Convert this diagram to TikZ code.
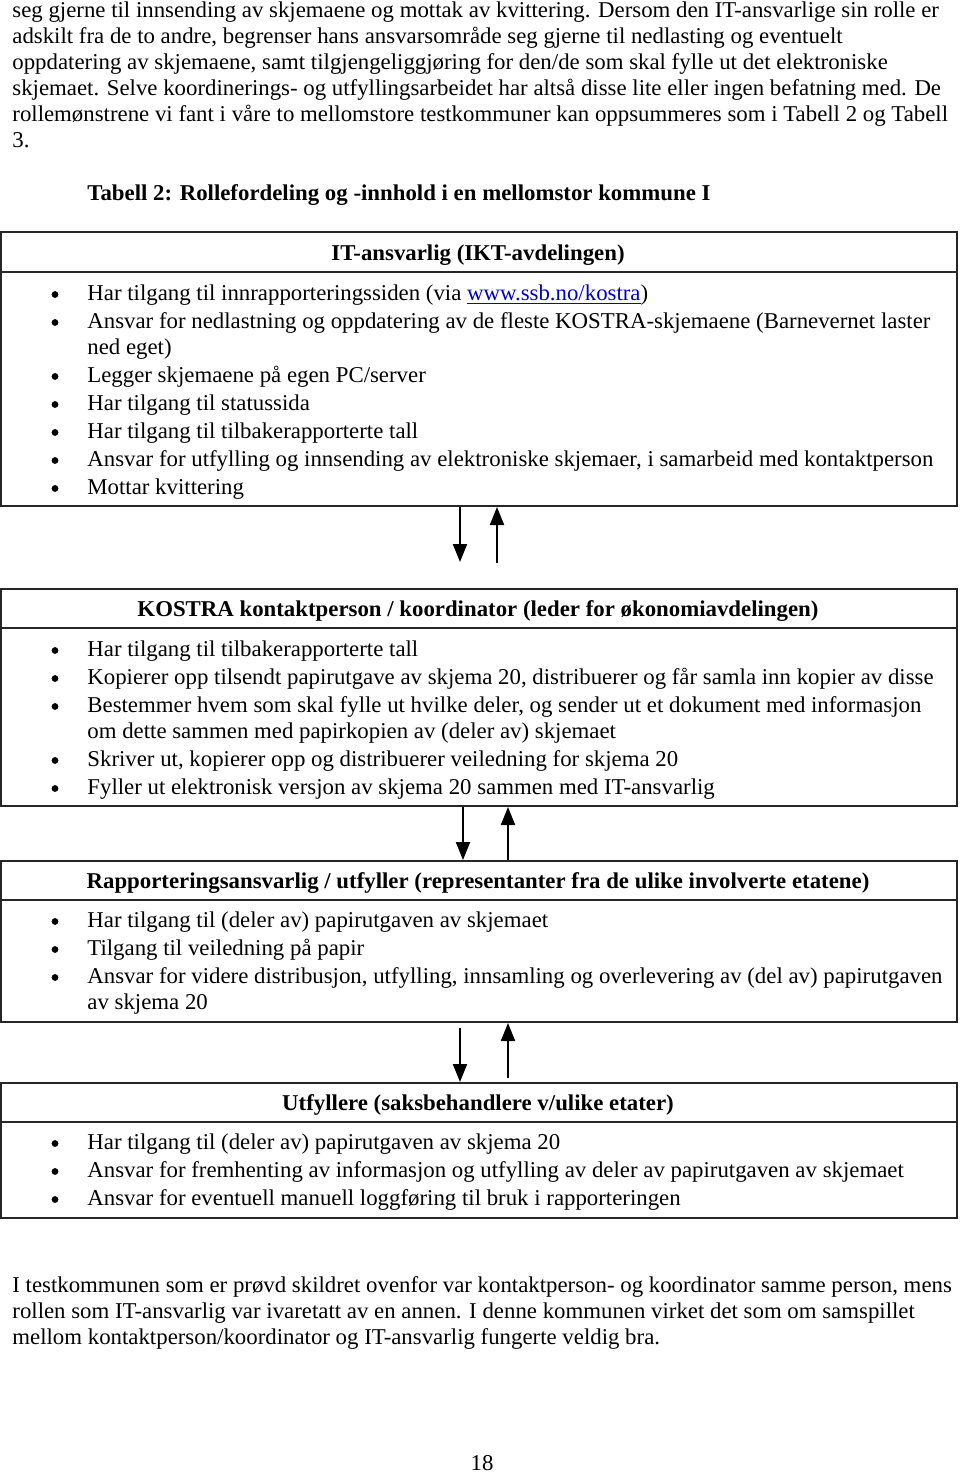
\documentclass[tikz,border=0pt]{standalone}
\usepackage{fontspec}
\setmainfont{Liberation Serif}[FakeStretch=1.01]
\usetikzlibrary{arrows.meta}
\definecolor{lenkeblaa}{RGB}{0,0,204}
\tikzstyle{boks} = [rectangle, draw=black!85, line width=1pt, minimum width=478pt, inner sep=0pt]
\tikzstyle{tekst} = [anchor=base west, inner sep=0pt, font=\fontsize{11.3pt}{13pt}\selectfont]
\tikzstyle{prikk} = [circle, fill=black, inner sep=0pt, minimum size=3.4pt]
\tikzstyle{tittel} = [anchor=base, inner sep=0pt, font=\fontsize{11.3pt}{13pt}\selectfont\bfseries]
\tikzstyle{pil} = [line width=1pt, -{Triangle[width=7pt,length=9pt]}]
\newcommand{\lenke}[1]{\textcolor{lenkeblaa}{\underline{#1}}}
% bullet + text on one baseline
\newcommand{\punkt}[3]{%
  \node[prikk] (#1p) at (55,#2-5.5) {};
  \node[tekst] (#1) at (87,#2) {#3};}

\begin{document}
\begin{tikzpicture}[x=0.5pt, y=-0.5pt]
  \useasboundingbox (0,0) rectangle (960,1474);

  % running text above the table
  \foreach \i/\y/\t in {1/17/{seg gjerne til innsending av skjemaene og mottak av kvittering. Dersom den IT-ansvarlige sin rolle er},
      2/43/{adskilt fra de to andre, begrenser hans ansvarsområde seg gjerne til nedlasting og eventuelt},
      3/69/{oppdatering av skjemaene, samt tilgjengeliggjøring for den/de som skal fylle ut det elektroniske},
      4/95/{skjemaet. Selve koordinerings- og utfyllingsarbeidet har altså disse lite eller ingen befatning med. De},
      5/121/{rollemønstrene vi fant i våre to mellomstore testkommuner kan oppsummeres som i Tabell 2 og Tabell},
      6/147/{3.}}
    \node[tekst] (p\i) at (12,\y) {\t};

  \node[tekst, font=\fontsize{11.3pt}{13pt}\selectfont\bfseries] (tab) at (87,200) {Tabell 2: Rollefordeling og -innhold i en mellomstor kommune I};

  % boxes
  \node[boks, minimum height=137pt] (itboks) at (479,369) {};
  \node[boks, minimum height=108.5pt] (kontaktboks) at (479,697.5) {};
  \node[boks, minimum height=80.5pt] (rappboks) at (479,941.5) {};
  \node[boks, minimum height=67.5pt] (utfboks) at (479,1150.5) {};

  \draw[draw=black!85, line width=1pt] (itboks.west |- 0,272) -- (itboks.east |- 0,272);
  \draw[draw=black!85, line width=1pt] (kontaktboks.west |- 0,628) -- (kontaktboks.east |- 0,628);
  \draw[draw=black!85, line width=1pt] (rappboks.west |- 0,900) -- (rappboks.east |- 0,900);
  \draw[draw=black!85, line width=1pt] (utfboks.west |- 0,1122) -- (utfboks.east |- 0,1122);

  % IT-ansvarlig
  \node[tittel] (ith) at (478,260) {IT-ansvarlig (IKT-avdelingen)};
  \punkt{a1}{300}{Har tilgang til innrapporteringssiden (via \lenke{www.ssb.no/kostra})}
  \punkt{a2}{328}{Ansvar for nedlastning og oppdatering av de fleste KOSTRA-skjemaene (Barnevernet laster}
  \node[tekst] (a2b) at (87,354) {ned eget)};
  \punkt{a3}{382}{Legger skjemaene på egen PC/server}
  \punkt{a4}{410}{Har tilgang til statussida}
  \punkt{a5}{438}{Har tilgang til tilbakerapporterte tall}
  \punkt{a6}{466}{Ansvar for utfylling og innsending av elektroniske skjemaer, i samarbeid med kontaktperson}
  \punkt{a7}{494}{Mottar kvittering}

  % KOSTRA kontaktperson
  \node[tittel] (kh) at (478,616) {KOSTRA kontaktperson / koordinator (leder for økonomiavdelingen)};
  \punkt{b1}{656}{Har tilgang til tilbakerapporterte tall}
  \punkt{b2}{684}{Kopierer opp tilsendt papirutgave av skjema 20, distribuerer og får samla inn kopier av disse}
  \punkt{b3}{712}{Bestemmer hvem som skal fylle ut hvilke deler, og sender ut et dokument med informasjon}
  \node[tekst] (b3b) at (87,738) {om dette sammen med papirkopien av (deler av) skjemaet};
  \punkt{b4}{766}{Skriver ut, kopierer opp og distribuerer veiledning for skjema 20}
  \punkt{b5}{794}{Fyller ut elektronisk versjon av skjema 20 sammen med IT-ansvarlig}

  % Rapporteringsansvarlig
  \node[tittel] (rh) at (478,888) {Rapporteringsansvarlig / utfyller (representanter fra de ulike involverte etatene)};
  \punkt{c1}{927}{Har tilgang til (deler av) papirutgaven av skjemaet}
  \punkt{c2}{955}{Tilgang til veiledning på papir}
  \punkt{c3}{983}{Ansvar for videre distribusjon, utfylling, innsamling og overlevering av (del av) papirutgaven}
  \node[tekst] (c3b) at (87,1009) {av skjema 20};

  % Utfyllere
  \node[tittel] (uh) at (478,1110) {Utfyllere (saksbehandlere v/ulike etater)};
  \punkt{d1}{1149}{Har tilgang til (deler av) papirutgaven av skjema 20}
  \punkt{d2}{1177}{Ansvar for fremhenting av informasjon og utfylling av deler av papirutgaven av skjemaet}
  \punkt{d3}{1205}{Ansvar for eventuell manuell loggføring til bruk i rapporteringen}

  % arrows between the boxes
  \coordinate (n1) at (460,562);
  \coordinate (o1) at (497,563);
  \coordinate (o3) at (508,1078);
  \coordinate (n3) at (460,1028);
  \draw[pil] (460,0 |- itboks.south) -- (n1);
  \draw[pil] (o1) -- (497,0 |- itboks.south);
  \draw[pil] (463,0 |- kontaktboks.south) -- (463,0 |- rappboks.north);
  \draw[pil] (508,0 |- rappboks.north) -- (508,0 |- kontaktboks.south);
  \draw[pil] (n3) -- (460,0 |- utfboks.north);
  \draw[pil] (o3) -- (508,0 |- rappboks.south);

  % running text below
  \foreach \i/\y/\t in {1/1292/{I testkommunen som er prøvd skildret ovenfor var kontaktperson- og koordinator samme person, mens},
      2/1318/{rollen som IT-ansvarlig var ivaretatt av en annen. I denne kommunen virket det som om samspillet},
      3/1344/{mellom kontaktperson/koordinator og IT-ansvarlig fungerte veldig bra.}}
    \node[tekst] (q\i) at (12,\y) {\t};

  \node[tittel, font=\fontsize{11.3pt}{13pt}\selectfont] (side) at (482,1470) {18};
\end{tikzpicture}
\end{document}
